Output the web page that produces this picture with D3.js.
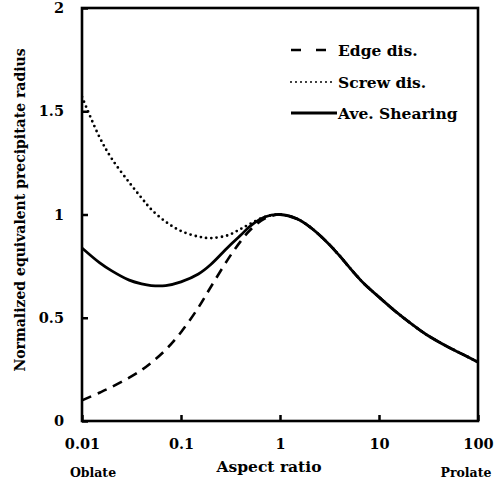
<!DOCTYPE html>
<html>
<head>
<meta charset="utf-8">
<script src="https://cdn.jsdelivr.net/npm/d3@7"></script>
<style>
  html, body { margin: 0; padding: 0; background: #fff; }
  svg { display: block; }
  text { font-family: "DejaVu Serif", serif; font-weight: bold; fill: #000; }
</style>
</head>
<body>
<svg id="chart" width="495" height="485"></svg>
<script>
// ---- data ----
const aspectRatio = [0.01, 0.015, 0.02, 0.03, 0.04, 0.05, 0.07, 0.1, 0.15, 0.2, 0.3, 0.4, 0.5, 0.7, 1,
                     1.5, 2, 3, 4, 5, 7, 10, 15, 20, 30, 50, 70, 100];
const edgeDis   = [0.10, 0.137, 0.165, 0.21, 0.247, 0.282, 0.345, 0.43, 0.55, 0.649, 0.785, 0.87, 0.925, 0.98, 1.0,
                   0.978, 0.94, 0.865, 0.80, 0.745, 0.667, 0.60, 0.527, 0.48, 0.419, 0.358, 0.323, 0.285];
const screwDis  = [1.57, 1.375, 1.27, 1.155, 1.08, 1.025, 0.965, 0.92, 0.893, 0.886, 0.90, 0.93, 0.955, 0.988, 1.0,
                   0.978, 0.94, 0.865, 0.80, 0.745, 0.667, 0.60, 0.527, 0.48, 0.419, 0.358, 0.323, 0.285];
const aveShear  = [0.838, 0.767, 0.727, 0.682, 0.664, 0.656, 0.656, 0.674, 0.712, 0.758, 0.843, 0.899, 0.944, 0.988, 1.0,
                   0.978, 0.94, 0.865, 0.80, 0.745, 0.667, 0.60, 0.527, 0.48, 0.419, 0.358, 0.323, 0.285];
const xTicks = [0.01, 0.1, 1, 10, 100];
const xTickLabels = ["0.01", "0.1", "1", "10", "100"];
const yTicks = [0, 0.5, 1, 1.5, 2];
const yTickLabels = ["0", "0.5", "1", "1.5", "2"];
const seriesNames = ["Edge dis.", "Screw dis.", "Ave. Shearing"];

// ---- layout ----
const svg = d3.select("#chart");
const L = 82, R = 478, T = 8, B = 421;
const x = d3.scaleLog().domain([0.01, 100]).range([L, R]);
const y = d3.scaleLinear().domain([0, 2]).range([B, T]);

const line = d3.line().x((d, i) => x(aspectRatio[i])).y(d => y(d)).curve(d3.curveCatmullRom.alpha(0.5));

svg.append("clipPath").attr("id", "clip")
  .append("rect").attr("x", L).attr("y", T).attr("width", R - L).attr("height", B - T);

const styles = [
  { data: edgeDis,  dash: "10,7",  cap: "butt",  w: 2.6 },
  { data: screwDis, dash: "0,5.3", cap: "round", w: 2.8 },
  { data: aveShear, dash: null,    cap: "butt",  w: 2.8 }
];

const g = svg.append("g").attr("clip-path", "url(#clip)");
styles.forEach(s => {
  g.append("path")
    .attr("d", line(s.data))
    .attr("fill", "none")
    .attr("stroke", "#000")
    .attr("stroke-width", s.w)
    .attr("stroke-linecap", s.cap)
    .attr("stroke-dasharray", s.dash);
});

// axes with inward ticks
const xAxis = d3.axisBottom(x).tickValues(xTicks).tickFormat((d, i) => xTickLabels[i])
  .tickSizeInner(-6).tickSizeOuter(0).tickPadding(18);
const gx = svg.append("g").attr("transform", `translate(0,${B})`).call(xAxis);
gx.select(".domain").remove();
gx.selectAll(".tick line").attr("stroke", "#000").attr("stroke-width", 2.5);
gx.selectAll(".tick text").style("font-size", "14.5px").style("font-family", "DejaVu Serif").style("font-weight", "bold");

const yAxis = d3.axisLeft(y).tickValues(yTicks).tickFormat((d, i) => yTickLabels[i])
  .tickSizeInner(-6).tickSizeOuter(0).tickPadding(18);
const gy = svg.append("g").attr("transform", `translate(${L},0)`).call(yAxis);
gy.select(".domain").remove();
gy.selectAll(".tick line").attr("stroke", "#000").attr("stroke-width", 2.5);
gy.selectAll(".tick text").style("font-size", "14.5px").style("font-family", "DejaVu Serif").style("font-weight", "bold");

// frame
svg.append("rect").attr("x", L).attr("y", T).attr("width", R - L).attr("height", B - T)
  .attr("fill", "none").attr("stroke", "#000").attr("stroke-width", 2.6);

// axis titles
svg.append("text").attr("x", 269).attr("y", 472).attr("text-anchor", "middle")
  .style("font-size", "15.5px").text("Aspect ratio");
svg.append("text").attr("x", 93).attr("y", 477).attr("text-anchor", "middle")
  .style("font-size", "12.5px").text("Oblate");
svg.append("text").attr("x", 466).attr("y", 477).attr("text-anchor", "middle")
  .style("font-size", "12.5px").text("Prolate");
svg.append("text").attr("transform", "translate(25,210) rotate(-90)").attr("text-anchor", "middle")
  .style("font-size", "14px").text("Normalized equivalent precipitate radius");

// legend
const legY = [50, 82, 113];
const legStyles = [
  { x2: 326, dash: "10,15", cap: "butt", w: 2.6 },
  { x2: 332, dash: "0,5",   cap: "round", w: 2 },
  { x2: 337, dash: null,    cap: "butt", w: 3 }
];
seriesNames.forEach((name, i) => {
  svg.append("line").attr("x1", 291).attr("x2", legStyles[i].x2)
    .attr("y1", legY[i]).attr("y2", legY[i])
    .attr("stroke", "#000").attr("stroke-width", legStyles[i].w)
    .attr("stroke-linecap", legStyles[i].cap)
    .attr("stroke-dasharray", legStyles[i].dash);
  svg.append("text").attr("x", 338).attr("y", legY[i] + 6)
    .style("font-size", "15.5px").text(name);
});
</script>
</body>
</html>
